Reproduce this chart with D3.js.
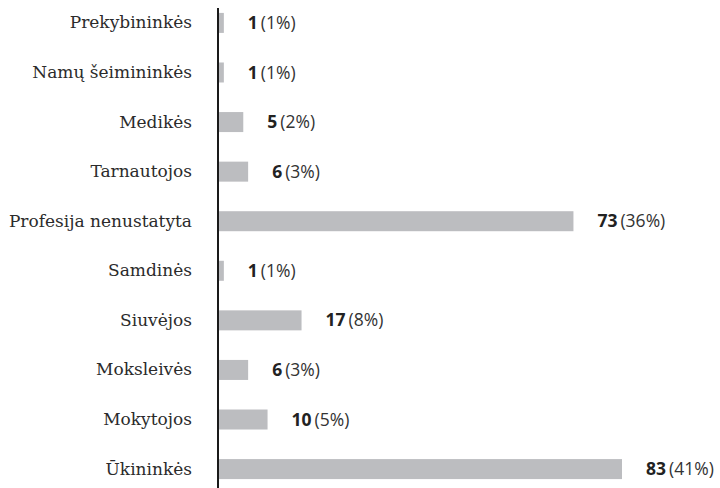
<!DOCTYPE html>
<html>
<head>
<meta charset="utf-8">
<script src="https://cdn.jsdelivr.net/npm/d3@7"></script>
<style>
  body { margin: 0; background: #fff; }
  svg { display: block; }
  .cat text { font-family: "DejaVu Serif", serif; font-size: 17px; fill: #2b2b2b; }
  .val { font-family: "Open Sans", sans-serif; font-size: 17.5px; fill: #222; }
</style>
</head>
<body>
<svg width="720" height="488"></svg>
<script>
var categories = ["Prekybininkės", "Namų šeimininkės", "Medikės", "Tarnautojos",
    "Profesija nenustatyta", "Samdinės", "Siuvėjos", "Moksleivės", "Mokytojos", "Ūkininkės"];
var counts = [1, 1, 5, 6, 73, 1, 17, 6, 10, 83];
var percents = ["1%", "1%", "2%", "3%", "36%", "1%", "8%", "3%", "5%", "41%"];

var svg = d3.select("svg"),
    margin = {left: 219, top: 0},
    g = svg.append("g").attr("transform", "translate(" + margin.left + "," + margin.top + ")");

var data = categories.map(function(c, i) { return {cat: c, n: counts[i], p: percents[i]}; });

var x = d3.scaleLinear().domain([0, 83]).range([0, 403]);
var y = d3.scaleBand().domain(categories).range([3, 489]).paddingInner(0.5965).paddingOuter(0.2);

// kategoriju pavadinimai
g.append("g")
    .attr("class", "cat")
    .attr("transform", "translate(-2,0)")
    .call(d3.axisLeft(y).tickSize(0).tickPadding(25))
    .call(function(a) { a.select(".domain").remove(); });

// stulpeliai
g.append("g")
    .selectAll("rect")
    .data(data)
    .enter().append("rect")
    .attr("x", 0)
    .attr("y", function(d) { return y(d.cat); })
    .attr("width", function(d) { return x(d.n); })
    .attr("height", y.bandwidth())
    .attr("fill", "#bcbdc0");

// reiksmes
var lbl = g.append("g")
    .selectAll("text")
    .data(data)
    .enter().append("text")
    .attr("class", "val")
    .attr("x", function(d) { return x(d.n) + 24; })
    .attr("y", function(d) { return y(d.cat) + y.bandwidth() / 2; })
    .attr("dy", "0.35em");
lbl.append("tspan").attr("font-weight", "bold").text(function(d) { return d.n; });
lbl.append("tspan").attr("dx", 3).attr("fill", "#333").text(function(d) { return "(" + d.p + ")"; });

// vertikali asis
g.append("line")
    .attr("x1", -1).attr("x2", -1)
    .attr("y1", 8).attr("y2", 488)
    .attr("stroke", "#1a1a1a")
    .attr("stroke-width", 2);
</script>
</body>
</html>
